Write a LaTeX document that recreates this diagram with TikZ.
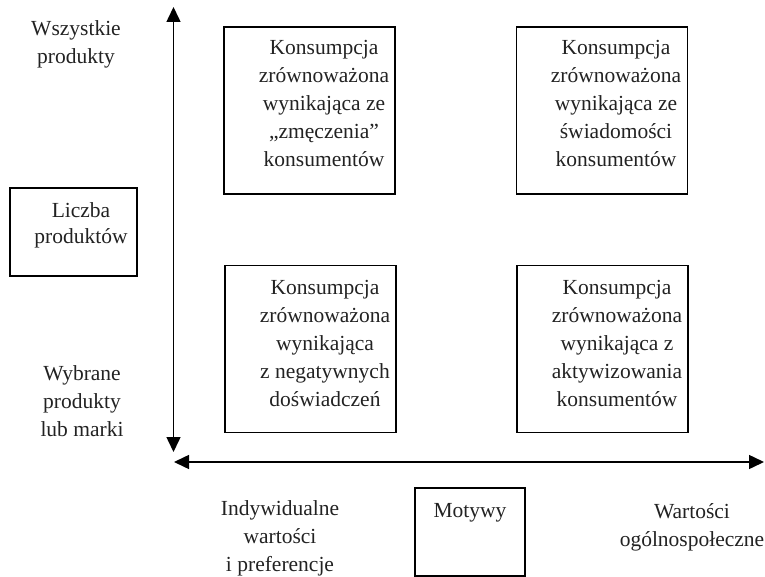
\documentclass[tikz,border=0pt]{standalone}
\usepackage{fontspec}
\setmainfont{Liberation Serif}
\usetikzlibrary{arrows.meta}
\definecolor{ink}{HTML}{222222}
\begin{document}
\begin{tikzpicture}[x=1pt,y=-1pt,
  every node/.style={font=\fontsize{21.5}{28}\selectfont, align=center, text=ink},
  qbox/.style={draw, line width=1.3pt, minimum width=171pt, minimum height=167pt, inner sep=0pt},
  lbl/.style={inner sep=0pt, anchor=north},
  axis/.style={line width=1.5pt, {Triangle[length=15pt,width=14pt]}-{Triangle[length=15pt,width=14pt]}}]
\useasboundingbox (0,0) rectangle (765,577);
\coordinate (vt) at (173.5,7);
\coordinate (vb) at (173.5,452);
\coordinate (hl) at (174,462);
\coordinate (hr) at (764,462);
\draw[axis] (vt) -- (vb);
\draw[axis] (hl) -- (hr);
% quadrant boxes
\node[qbox] (tl) at (309.5,110.5) {};
\node[qbox] (tr) at (602,110.5) {};
\node[qbox] (bl) at (310.5,349) {};
\node[qbox] (br) at (602.5,349) {};
\node[lbl] (tlt) at (324,40.5) {Konsumpcja\\zrównoważona\\wynikająca ze\\„zmęczenia”\\konsumentów};
\node[lbl] (trt) at (616,40.5) {Konsumpcja\\zrównoważona\\wynikająca ze\\świadomości\\konsumentów};
\node[lbl] (blt) at (325,280.5) {Konsumpcja\\zrównoważona\\wynikająca\\z negatywnych\\doświadczeń};
\node[lbl] (brt) at (617,280.5) {Konsumpcja\\zrównoważona\\wynikająca z\\aktywizowania\\konsumentów};
% left side
\node[draw, line width=1.3pt, minimum width=127pt, minimum height=88pt, inner sep=0pt] (lp) at (73.5,232) {};
\node[lbl, font=\fontsize{21.5}{26}\selectfont] (lpt) at (81,202.5) {Liczba\\produktów};
\node[lbl] (ws) at (76,20.5) {Wszystkie\\produkty};
\node[lbl] (wy) at (82,365.5) {Wybrane\\produkty\\lub marki};
% bottom
\node[lbl] (iw) at (280,500.5) {Indywidualne\\wartości\\i preferencje};
\node[lbl] (wo) at (692,503.5) {Wartości\\ogólnospołeczne};
\node[draw, line width=1.3pt, minimum width=110pt, minimum height=88pt, inner sep=0pt] (mb) at (470,532) {};
\node[lbl] (mo) at (470,503.5) {Motywy};
\end{tikzpicture}
\end{document}
